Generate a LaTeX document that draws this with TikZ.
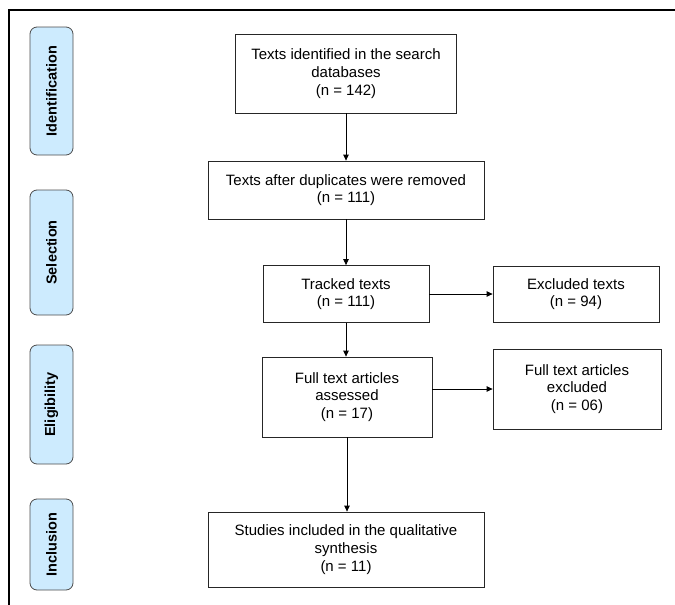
\documentclass[tikz,border=0pt]{standalone}
\usepackage{fontspec}
\setmainfont{Liberation Sans}
\usetikzlibrary{arrows.meta}
\usetikzlibrary{positioning}
\usepackage{xcolor}
\definecolor{tabblue}{HTML}{CDEBFE}

\begin{document}
\begin{tikzpicture}[x=1pt, y=-1pt, font=\fontsize{15}{17.7}\selectfont,
		box/.style={draw=black!85, line width=0.8pt, align=center, inner sep=0pt},
		stage/.style={draw=black!70, fill=tabblue, line width=0.8pt, rounded corners=7pt, rotate=90, minimum height=43, inner sep=0pt, font=\fontsize{14.5}{17.5}\selectfont\bfseries},
		arr/.style={-{Triangle[length=6pt, width=5.5pt]}, line width=0.8pt}]
			\useasboundingbox (0,0) rectangle (675,605);
			\draw[line width=1.5pt] (9,605) -- (9,10) -- (675,10);
			
			\foreach \name/\label/\y/\h in {ident/Identification/91/128, sel/Selection/252.5/125, elig/Eligibility/404.5/119, incl/Inclusion/544.5/91}{
				\node[stage, minimum width=\h] (\name) at (51.5,\y) {\label};
			}
			
			\node[box, minimum width=221, minimum height=79] (found) at (346,73.5) {Texts identified in the search\\databases\\(n = 142)};
			\node[box, minimum width=276, minimum height=58] (dedup) at (346,190) {Texts after duplicates were removed\\(n = 111)};
			\node[box, minimum width=166, minimum height=57] (tracked) at (346,294) {Tracked texts\\(n = 111)};
			\node[box, minimum width=166, minimum height=56] (excl) at (576,294) {Excluded texts\\(n = 94)};
			\node[box, minimum width=170, minimum height=80] (full) at (347,397) {Full text articles\\assessed\\(n = 17)};
			\node[box, minimum width=168, minimum height=80] (fullexcl) at (577,389) {Full text articles\\excluded\\(n = 06)};
			\node[box, minimum width=276, minimum height=75] (studies) at (346,549.5) {Studies included in the qualitative\\synthesis\\(n = 11)};
			
			\draw[arr] (found) -- (dedup);
			\draw[arr] (dedup) -- (tracked);
			\draw[arr] (tracked) -- (excl);
			\draw[arr] (tracked.south) -- (tracked.south |- full.north);
			\draw[arr] (full.east |- fullexcl) -- (fullexcl);
			\draw[arr] (full.south) -- (full.south |- studies.north);
			
		\end{tikzpicture}
\end{document}
